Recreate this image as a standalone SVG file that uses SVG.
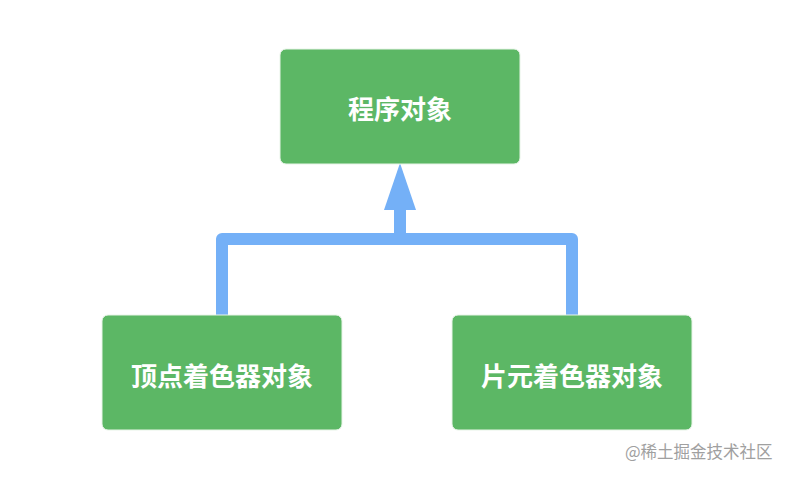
<svg xmlns="http://www.w3.org/2000/svg" width="790" height="478" viewBox="0 0 790 478">
<style>
.node rect{fill:#5cb765;stroke:#e8f4e8;stroke-width:1}
.node text{fill:#fff;font-family:"Noto Sans CJK SC","Noto Sans",sans-serif;font-weight:bold;font-size:26px;text-anchor:middle}
.conn{fill:none;stroke:#74b0f7;stroke-width:12;stroke-linejoin:round}
.wm{fill:#a0a0a0;font-family:"Noto Sans CJK SC","Noto Sans",sans-serif;font-size:16.5px}
</style>
<rect width="790" height="478" fill="#fff"/>
<g id="connectors">
<path class="conn" d="M222,315 V239 H572 V315"/>
<path class="conn" d="M400,239 V205"/>
<polygon points="400,163 416,210 384,210" fill="#74b0f7"/>
</g>
<g id="program" class="node">
<rect x="280" y="49" width="240" height="115" rx="6"/>
<text x="400" y="119">程序对象</text>
</g>
<g id="vertex" class="node">
<rect x="102" y="315" width="240" height="115" rx="6"/>
<text x="222" y="386">顶点着色器对象</text>
</g>
<g id="fragment" class="node">
<rect x="452" y="315" width="240" height="115" rx="6"/>
<text x="572" y="386">片元着色器对象</text>
</g>
<text class="wm" x="625" y="458">@稀土掘金技术社区</text>
</svg>
